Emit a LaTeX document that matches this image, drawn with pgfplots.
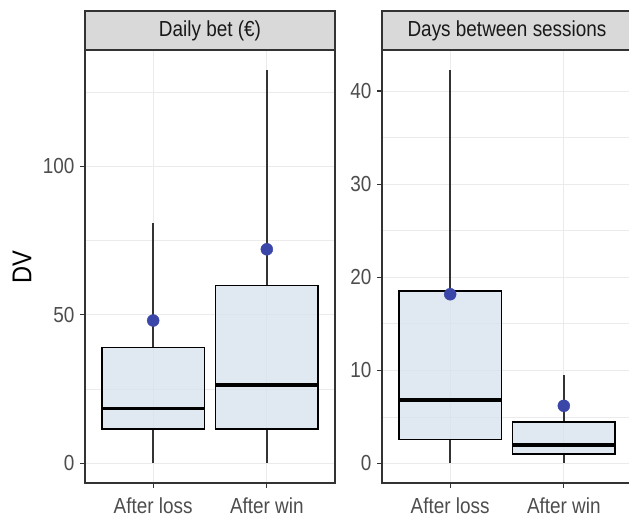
\documentclass[border=0pt]{standalone}
\usepackage{pgfplots}
\pgfplotsset{compat=1.18}
\usepgfplotslibrary{statistics}
\usepackage{fontspec}
\setmainfont{Liberation Sans}
\definecolor{gtwenty}{HTML}{333333}
\definecolor{gthirty}{HTML}{4D4D4D}
\definecolor{gridc}{HTML}{EBEBEB}
\definecolor{stripc}{HTML}{D9D9D9}
\definecolor{boxfill}{HTML}{D8E2EE}
\definecolor{meanc}{HTML}{3B47A8}
\newcommand{\st}[1]{\scalebox{1}[1.15]{#1}}
\begin{document}
\begin{tikzpicture}
\pgfplotsset{
  panel/.style={
    scale only axis, width=250bp, height=433bp, anchor=south west,
    xmin=0.4, xmax=2.6, xtick={1,2}, xticklabels={\st{After loss}, \st{After win}},
    yticklabel={\st{\pgfmathprintnumber{\tick}}},
    grid=both,
    major grid style={color=gridc, line width=1.1bp},
    minor grid style={color=gridc, line width=0.55bp},
    axis line style={color=gtwenty, line width=1.2bp},
    tick style={color=gtwenty, line width=1.2bp},
    tick align=outside, major tick length=5bp, minor tick length=0pt,
    tick pos=left,
    ticklabel style={font=\fontsize{19}{22}\selectfont, text=gthirty},
    yticklabel style={xshift=-2bp},
    xticklabel style={yshift=-6bp},
    /pgf/number format/assume math mode=true,
    boxplot/draw direction=y,
  },
  bx/.style={draw=black, fill=boxfill, fill opacity=0.8, line width=1.4bp, solid,
    boxplot/every median/.style={line width=3.2bp, draw=black},
    boxplot/every whisker/.style={line width=1.4bp, draw=gtwenty},
    boxplot/box extend=0.9, boxplot/whisker extend=0},
  mn/.style={only marks, mark=*, mark size=6bp, color=meanc, fill=meanc},
}
% left panel
\begin{axis}[panel, at={(85bp,-483bp)},
  ymin=-6.63, ymax=139.23, ytick={0,50,100}, minor ytick={25,75,125}]
\addplot[bx, boxplot prepared={draw position=1, lower whisker=0, lower quartile=11.6,
  median=18.5, upper quartile=39.1, upper whisker=81.1}]
  coordinates {};
\addplot[bx, boxplot prepared={draw position=2, lower whisker=0, lower quartile=11.6,
  median=26.4, upper quartile=59.9, upper whisker=132.6}]
  coordinates {};
\addplot[mn] coordinates {(1,48.1) (2,72.1)};
\end{axis}
% right panel
\begin{axis}[panel, at={(382bp,-483bp)},
  ymin=-2.115, ymax=44.415, ytick={0,10,20,30,40}, minor ytick={5,15,25,35}]
\addplot[bx, boxplot prepared={draw position=1, lower whisker=0, lower quartile=2.58,
  median=6.8, upper quartile=18.53, upper whisker=42.3}]
  coordinates {};
\addplot[bx, boxplot prepared={draw position=2, lower whisker=0, lower quartile=1.0,
  median=1.96, upper quartile=4.43, upper whisker=9.48}]
  coordinates {};
\addplot[mn] coordinates {(1,18.17) (2,6.18)};
\end{axis}
% strips
\draw[fill=stripc, draw=gtwenty, line width=1.2bp] (85bp,-11bp) rectangle (335bp,-50bp);
\draw[fill=stripc, draw=gtwenty, line width=1.2bp] (382bp,-11bp) rectangle (632bp,-50bp);
\node[font=\fontsize{19}{22}\selectfont, text=black!90] at (210bp,-30.5bp) {\st{Daily bet (€)}};
\node[font=\fontsize{19}{22}\selectfont, text=black!90] at (507bp,-30.5bp) {\st{Days between sessions}};
\node[rotate=90, font=\fontsize{23.75}{28}\selectfont] at (22bp,-267bp) {\st{DV}};
\pgfresetboundingbox
\useasboundingbox (0,0) rectangle (629bp,-525bp);
\end{tikzpicture}
\end{document}
